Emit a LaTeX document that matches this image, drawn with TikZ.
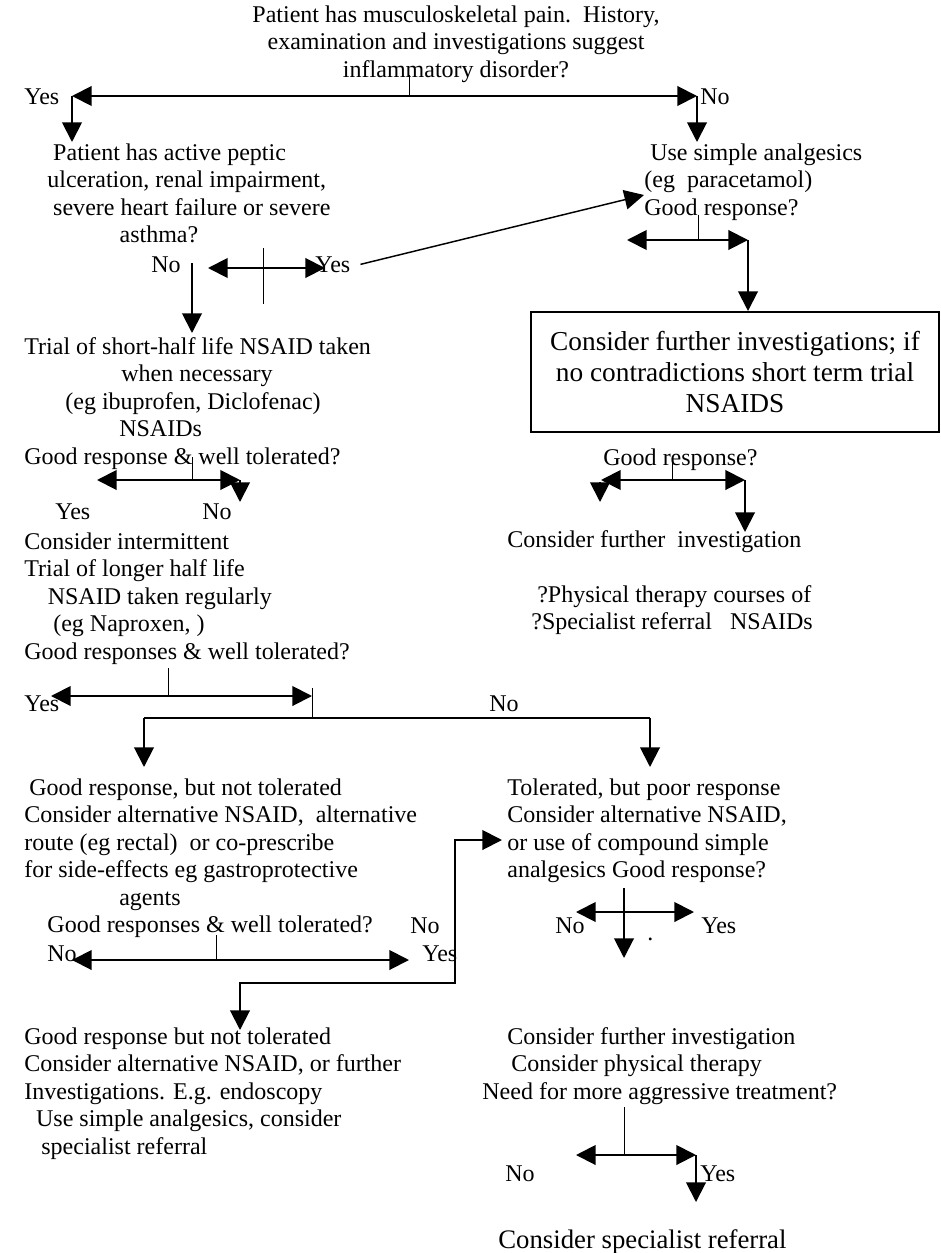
\documentclass[tikz,border=0pt]{standalone}
\usepackage{fontspec}
\setmainfont{Liberation Serif}
\usepackage{tikz}
\usetikzlibrary{arrows.meta}
\tikzstyle{arrow} = [-{Triangle[length=10pt,width=10pt]}, line width=1pt]
\tikzstyle{twoway} = [{Triangle[length=10pt,width=10pt]}-{Triangle[length=10pt,width=10pt]}, line width=1pt]
\tikzstyle{tick} = [line width=0.5pt]
\tikzstyle{txt} = [anchor=north west, inner sep=0pt, align=left, font=\fontsize{12.3}{14.1}\selectfont]
\tikzstyle{ctxt} = [anchor=north, inner sep=0pt, align=center, font=\fontsize{12.3}{14.1}\selectfont]
\tikzstyle{yn} = [anchor=north west, inner sep=0pt, font=\fontsize{12.3}{14.1}\selectfont]
\tikzstyle{action} = [rectangle, draw, line width=1pt, minimum width=209pt, minimum height=61.5pt, align=center, font=\fontsize{14}{15.9}\selectfont]

\begin{document}
\begin{tikzpicture}[x=0.018cm, y=-0.018cm]
    \useasboundingbox (0,0) rectangle (941,1253);

    % Questions and advice
    \node[ctxt] (pain) at (456,5) {Patient has musculoskeletal pain.\ \ History,\\examination and investigations suggest\\inflammatory disorder?};
    \node[txt] (peptic) at (47,143) {\hspace*{3pt}Patient has active peptic\\ulceration, renal impairment,\\\hspace*{3pt}severe heart failure or severe\\\hspace*{37pt}asthma?};
    \node[txt] (simple) at (644,143) {\hspace*{3pt}Use simple analgesics\\(eg\ \ paracetamol)\\Good response?};
    \node[action] (nsaidtrial) at (735,372) {Consider further investigations; if\\no contradictions short term trial\\NSAIDS};
    \node[txt] (shorthalf) at (24,337) {Trial of short-half life NSAID taken\\\hspace*{49.7pt}when necessary\\\hspace*{21pt}(eg ibuprofen, Diclofenac)\\\hspace*{48.6pt}NSAIDs\\Good response \& well tolerated?};
    \node[txt] (goodresp) at (603,448) {Good response?};
    \node[txt] (furtherinv) at (507,530) {Consider further\ \ investigation};
    \node[txt] (physther) at (531,585) {\hspace*{3pt}?Physical therapy courses of\\?Specialist referral\ \ \ NSAIDs};
    \node[txt] (longhalf) at (24,532) {Consider intermittent\\Trial of longer half life\\\hspace*{12pt}NSAID taken regularly\\\hspace*{14.8pt}(eg Naproxen, )\\Good responses \& well tolerated?};
    \node[txt] (nottol) at (24,778) {\hspace*{2.5pt}Good response, but not tolerated\\Consider alternative NSAID,\ \ alternative\\route (eg rectal)\ \ or co-prescribe\\for side-effects eg gastroprotective\\\hspace*{48.6pt}agents\\\hspace*{11.8pt}Good responses \& well tolerated?};
    \node[txt] (poorresp) at (507,778) {Tolerated, but poor response\\Consider alternative NSAID,\\or use of compound simple\\analgesics Good response?};
    \node[txt] (endo) at (24,1027) {Good response but not tolerated\\Consider alternative NSAID, or further\\Investigations. E.g. endoscopy\\\hspace*{6pt}Use simple analgesics, consider\\\hspace*{8.7pt}specialist referral};
    \node[txt] (physio) at (482,1027) {\hspace*{12.8pt}Consider further investigation\\\hspace*{14.8pt}Consider physical therapy\\Need for more aggressive treatment?};
    \node[txt, font=\fontsize{13.7}{15}\selectfont] (specref) at (498,1229) {Consider specialist referral};

    % Yes / No labels
    \node[yn] (painyes) at (24,88) {Yes};
    \node[yn] (painno) at (700,88) {No};
    \node[yn] (pepticno) at (151,256) {No};
    \node[yn] (pepticyes) at (315,256) {Yes};
    \node[yn] (shortyes) at (55,503) {Yes};
    \node[yn] (shortno) at (202,503) {No};
    \node[yn] (longyes) at (24,695) {Yes};
    \node[yn] (longno) at (489,695) {No};
    \node[yn] (nottolno2) at (410,917) {No};
    \node[yn] (nottolno) at (47,945) {No};
    \node[yn] (nottolyes) at (422,945) {Yes};
    \node[yn] (poorno) at (555,917) {No};
    \node[yn] (pooryes) at (701,917) {Yes};
    \node[yn] (stray) at (647,938) {.};
    \node[yn] (physiono) at (505,1165) {No};
    \node[yn] (physioyes) at (700,1165) {Yes};

    % Fork points
    \coordinate (painq) at (409,75);
    \coordinate (painj) at (409,96);
    \coordinate (painl) at (72,96);
    \coordinate (painr) at (697,96);
    \coordinate (painld) at (72,142);
    \coordinate (painrd) at (697,142);
    \coordinate (peptq) at (192,263);
    \coordinate (peptd) at (192,333);
    \coordinate (peptl) at (208,268);
    \coordinate (peptr) at (325,268);
    \coordinate (pepttop) at (263,248);
    \coordinate (peptbot) at (263,304);
    \coordinate (yesto) at (644,195);
    \coordinate (simpq) at (698,215);
    \coordinate (simpj) at (698,240);
    \coordinate (simpl) at (627,240);
    \coordinate (simpr) at (748,240);
    \coordinate (shortq) at (192,457);
    \coordinate (shortj) at (192,480);
    \coordinate (shortl) at (97,480);
    \coordinate (shortr) at (240,480);
    \coordinate (shortd) at (240,502);
    \coordinate (goodq) at (672,458);
    \coordinate (goodj) at (672,480);
    \coordinate (goodl) at (601,480);
    \coordinate (goodr) at (745,480);
    \coordinate (goodlu) at (600,482);
    \coordinate (goodld) at (600,502);
    \coordinate (goodrd) at (745,532);
    \coordinate (longq) at (168,668);
    \coordinate (longj) at (168,696);
    \coordinate (longl) at (51,696);
    \coordinate (longr) at (312,696);
    \coordinate (longtop) at (312,688);
    \coordinate (longbar) at (312,718);
    \coordinate (barl) at (144,718);
    \coordinate (barr) at (650,718);
    \coordinate (barld) at (144,767);
    \coordinate (barrd) at (650,767);
    \coordinate (ntq) at (216,935);
    \coordinate (ntj) at (216,960);
    \coordinate (ntl) at (72,960);
    \coordinate (ntr) at (409,960);
    \coordinate (loopa) at (240,1030);
    \coordinate (loopb) at (455,983);
    \coordinate (loopc) at (502,840);
    \coordinate (poorq) at (624,888);
    \coordinate (poord) at (624,958);
    \coordinate (poorl) at (576,912);
    \coordinate (poorr) at (694,912);
    \coordinate (phq) at (624,1107);
    \coordinate (phj) at (624,1155);
    \coordinate (phl) at (576,1155);
    \coordinate (phr) at (696,1155);
    \coordinate (phd) at (696,1202);

    % Connectors
    \draw[tick] (painq) -- (painj);
    \draw[twoway] (painl) -- (painr);
    \draw[arrow] (painl) -- (painld);
    \draw[arrow] (painr) -- (painrd);

    \draw[arrow] (peptq) -- (peptd);
    \draw[twoway] (peptl) -- (peptr);
    \draw[tick] (pepttop) -- (peptbot);
    \draw[arrow, line width=0.75pt] ([xshift=5pt]pepticyes.east) -- (yesto);

    \draw[tick] (simpq) -- (simpj);
    \draw[twoway] (simpl) -- (simpr);
    \draw[arrow] (simpr) -- (simpr |- nsaidtrial.north);

    \draw[tick] (shortq) -- (shortj);
    \draw[twoway] (shortl) -- (shortr);
    \draw[arrow] (shortr) -- (shortd);

    \draw[tick] (goodq) -- (goodj);
    \draw[twoway] (goodl) -- (goodr);
    \draw[arrow] (goodlu) -- (goodld);
    \draw[arrow] (goodr) -- (goodrd);

    \draw[tick] (longq) -- (longj);
    \draw[twoway] (longl) -- (longr);
    \draw[tick] (longtop) -- (longbar);
    \draw[line width=1pt] (barl) -- (barr);
    \draw[arrow] (barl) -- (barld);
    \draw[arrow] (barr) -- (barrd);

    \draw[tick] (ntq) -- (ntj);
    \draw[twoway] (ntl) -- (ntr);
    \draw[twoway] (loopa) |- (loopb) |- (loopc);

    \draw[arrow] (poorq) -- (poord);
    \draw[twoway] (poorl) -- (poorr);

    \draw[tick] (phq) -- (phj);
    \draw[twoway] (phl) -- (phr);
    \draw[arrow] (phr) -- (phd);
\end{tikzpicture}
\end{document}
